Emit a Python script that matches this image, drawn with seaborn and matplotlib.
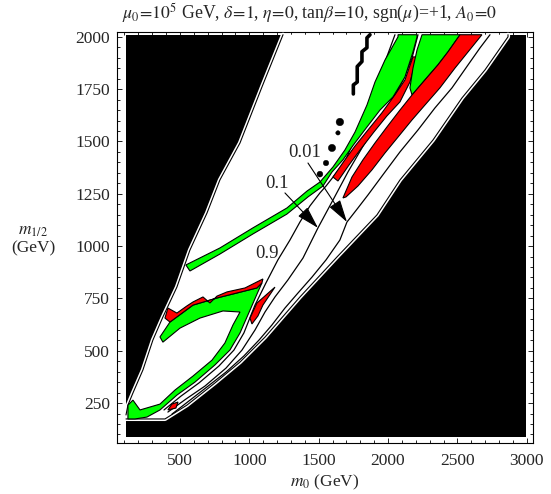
import numpy as np
import pandas as pd
import seaborn as sns
import matplotlib.pyplot as plt
import matplotlib.patheffects as pe
from matplotlib.ticker import MultipleLocator

# scanned area (everything outside the allowed wedge is excluded -> black)
scan_m0 = [110, 2995, 2995, 110]
scan_m12 = [88, 88, 2010, 2010]

# edge of the allowed wedge, upper-left side (top -> bottom)
upper_m0 = [1243, 1091, 933, 788, 695, 572, 478, 377, 305, 233, 161, 125, 111]
upper_m12 = [2010, 1760, 1493, 1316, 1158, 981, 804, 661, 551, 408, 298, 240, 193]

# edge of the allowed wedge, bottom and lower-right side (left -> top)
lower_m0 = [111, 392, 550, 752, 933, 1113, 1365, 1632, 1920, 2086, 2324, 2533, 2699, 2865, 2865]
lower_m12 = [174, 174, 240, 346, 446, 565, 757, 948, 1149, 1316, 1507, 1708, 1842, 2000, 2010]

# green / red regions
hook_green_m0 = [356, 428, 594, 767, 911, 1055, 1091, 1062, 1005, 933, 860, 752, 608, 478, 356, 262,
                 176, 125, 125, 161, 212, 356, 464, 594, 731, 824, 882, 933, 810, 644, 500, 377]
hook_green_m12 = [566, 637, 718, 752, 776, 800, 824, 781, 694, 585, 503, 432, 350, 288, 217, 183,
                  174, 174, 240, 264, 217, 245, 312, 379, 455, 537, 623, 685, 690, 656, 608, 541]
hook_red_m0 = [1091, 1055, 911, 767, 594, 428, 392, 413, 478, 550, 594, 666, 716, 767, 839, 969, 1098]
hook_red_m12 = [824, 800, 776, 752, 718, 637, 656, 704, 680, 714, 733, 757, 728, 761, 781, 800, 843]
spike_red_m0 = [1005, 1055, 1185, 1098, 1062, 1019]
spike_red_m12 = [656, 728, 804, 718, 666, 628]
corner_red_m0 = [413, 442, 486, 471]
corner_red_m12 = [217, 245, 255, 226]

band_green_m0 = [543, 788, 1026, 1271, 1416, 1509, 1603, 1689, 1762, 1848, 1906, 1978, 2072, 2072,
                 2209, 2209, 2180, 2122, 2036, 1942, 1848, 1750, 1675, 1596, 1531, 1423, 1271, 1026, 788, 572]
band_green_m12 = [910, 991, 1087, 1182, 1263, 1306, 1378, 1459, 1545, 1674, 1784, 1889, 2000, 2010,
                  2010, 2000, 1928, 1808, 1713, 1650, 1569, 1483, 1412, 1354, 1287, 1235, 1153, 1058, 962, 881]
sliver_red_m0 = [1603, 1689, 1762, 1863, 1956, 2050, 2122, 2180, 2209, 2158, 2086, 1992, 1898, 1798, 1718, 1639]
sliver_red_m12 = [1330, 1412, 1478, 1561, 1637, 1723, 1794, 1904, 1904, 1784, 1689, 1622, 1545, 1459, 1387, 1311]
top_green_m0 = [2245, 2519, 2432, 2360, 2266, 2173, 2158, 2180, 2209]
top_green_m12 = [2010, 2010, 1928, 1866, 1794, 1722, 1756, 1851, 1937]
wedge_red_m0 = [2519, 2432, 2360, 2266, 2173, 2086, 1992, 1906, 1819, 1740, 1675,
                1697, 1783, 1884, 1978, 2072, 2173, 2266, 2374, 2483, 2577, 2677]
wedge_red_m12 = [2010, 1928, 1866, 1794, 1722, 1650, 1569, 1493, 1412, 1330, 1230,
                 1235, 1287, 1364, 1445, 1521, 1603, 1674, 1756, 1851, 1928, 2010]

# contour lines
c09_m0 = [385, 507, 637, 781, 889, 961, 1041, 1120, 1206, 1293, 1365, 1437, 1509, 1553, 1689, 1762, 1834, 1906, 1978, 2050]
c09_m12 = [217, 283, 346, 427, 503, 585, 718, 824, 934, 1029, 1115, 1192, 1254, 1287, 1402, 1519, 1626, 1770, 1880, 2010]
c01_m0 = [413, 543, 680, 832, 947, 1041, 1113, 1185, 1278, 1387, 1495, 1603, 1711, 1812, 1913, 2014, 2108, 2173, 2216]
c01_m12 = [207, 269, 331, 417, 503, 599, 685, 757, 838, 943, 1087, 1220, 1354, 1469, 1579, 1674, 1794, 1899, 2010]
c001_m0 = [442, 565, 695, 832, 961, 1070, 1163, 1257, 1351, 1452, 1553, 1653, 1704, 1783, 1855, 1978,
           2086, 2216, 2338, 2461, 2577, 2663, 2735]
c001_m12 = [197, 260, 327, 398, 475, 551, 623, 704, 776, 852, 934, 1029, 1115, 1182, 1244, 1354,
            1450, 1555, 1660, 1756, 1866, 1947, 2010]

# small excluded islands inside the wedge
step_m0 = [1870, 1848, 1848, 1812, 1812, 1778, 1778, 1750, 1750]
step_m12 = [2010, 1995, 1948, 1929, 1882, 1858, 1784, 1770, 1727]
dots_m0 = [1653, 1639, 1596, 1553, 1509]
dots_m12 = [1593, 1541, 1469, 1397, 1344]
dots_size = [30, 10, 28, 16, 18]

# contour labels: text position, arrow start, arrow tip
labels = ['0.9', '0.1', '0.01']
label_m0 = [1127, 1199, 1401]
label_m12 = [967, 1301, 1445]
arrow_from = [None, (1257, 1254), (1423, 1397)]
arrow_to = [None, (1495, 1087), (1704, 1115)]

sns.set_theme(style='ticks')
plt.rcParams['font.family'] = ['Liberation Serif', 'DejaVu Serif']
plt.rcParams['mathtext.fontset'] = 'stix'

fig = plt.figure(figsize=(5.51, 4.94), dpi=100)
ax = fig.add_axes([0.2123, 0.1032, 0.755, 0.832])

ax.fill(scan_m0, scan_m12, color='black', lw=0, zorder=1)
ax.fill(upper_m0 + lower_m0, upper_m12 + lower_m12, color='white', lw=0, zorder=2)
halo = [pe.withStroke(linewidth=3, foreground='white')]
ax.plot(upper_m0, upper_m12, color='black', lw=0.8, zorder=3, path_effects=halo)
ax.plot(lower_m0, lower_m12, color='black', lw=0.8, zorder=3, path_effects=halo)

for xs, ys in [(c09_m0, c09_m12), (c01_m0, c01_m12), (c001_m0, c001_m12)]:
    sns.lineplot(x=xs, y=ys, sort=False, estimator=None, color='black', lw=0.9, ax=ax, zorder=4)

green = '#00ff00'
red = '#ff0000'
for xs, ys, c in [(hook_green_m0, hook_green_m12, green), (hook_red_m0, hook_red_m12, red),
                  (spike_red_m0, spike_red_m12, red), (corner_red_m0, corner_red_m12, red),
                  (band_green_m0, band_green_m12, green), (sliver_red_m0, sliver_red_m12, red),
                  (top_green_m0, top_green_m12, green), (wedge_red_m0, wedge_red_m12, red)]:
    ax.fill(xs, ys, facecolor=c, edgecolor='black', lw=0.8, zorder=5)

ax.plot(step_m0, step_m12, color='black', lw=2.6, zorder=6)
sns.scatterplot(x=dots_m0, y=dots_m12, size=dots_size, sizes=(10, 30), color='black',
                edgecolor='black', legend=False, ax=ax, zorder=6)

for txt, x, y, a0, a1 in zip(labels, label_m0, label_m12, arrow_from, arrow_to):
    ax.text(x, y, txt, fontsize=13.5, ha='center', va='center', zorder=8)
    if a0 is not None:
        ax.annotate('', xy=a1, xytext=a0, zorder=8,
                    arrowprops=dict(arrowstyle='-|>,head_length=0.7,head_width=0.2',
                                    color='black', lw=0.8, mutation_scale=20, shrinkA=0, shrinkB=0))

ax.set_xlim(46, 3045)
ax.set_ylim(59, 2023)
ax.xaxis.set_major_locator(MultipleLocator(500))
ax.xaxis.set_minor_locator(MultipleLocator(100))
ax.yaxis.set_major_locator(MultipleLocator(250))
ax.yaxis.set_minor_locator(MultipleLocator(50))
ax.tick_params(which='both', direction='in', top=True, right=True, width=0.6, color='black')
ax.tick_params(which='major', length=3.5, labelsize=12.5)
ax.tick_params(axis='x', which='major', pad=7)
ax.tick_params(axis='y', which='major', pad=5)
ax.tick_params(which='minor', length=2)
ax.set_xticks([500, 1000, 1500, 2000, 2500, 3000])
for s in ax.spines.values():
    s.set_linewidth(0.8)
    s.set_color('black')
ax.set_xlabel('')
ax.set_ylabel('')

fig.text(310 / 551, 1 - 13 / 494,
         r'$\mu_0\!=\!10^5$ GeV, $\delta\!=\!1$, $\eta\!=\!0$, tan$\beta\!=\!10$, sgn($\mu$)=+1, $A_0\!=\!0$',
         ha='center', va='center', fontsize=12.8)
fig.text(325 / 551, 1 - 482 / 494, r'$m_0$ (GeV)', ha='center', va='center', fontsize=12.5)
fig.text(33 / 551, 1 - 240 / 494, '$m_{1/2}$\n(GeV)', ha='center', va='center', fontsize=12.5,
         linespacing=1.1)

fig.savefig('out.png', dpi=100)
